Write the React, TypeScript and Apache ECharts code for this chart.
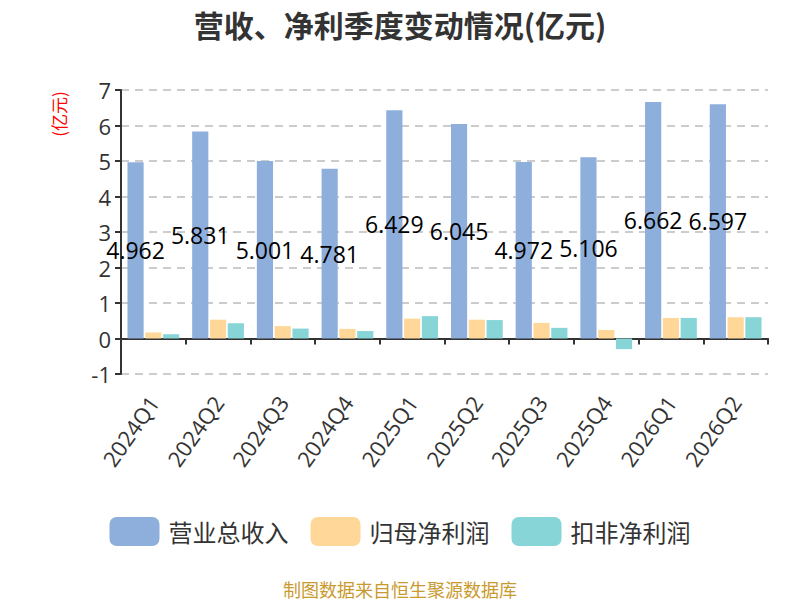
import React, { useEffect, useRef } from "react";
import * as echarts from "echarts";

const categories = ["2024Q1", "2024Q2", "2024Q3", "2024Q4", "2025Q1", "2025Q2", "2025Q3", "2025Q4", "2026Q1", "2026Q2"];
const revenue = [4.962, 5.831, 5.001, 4.781, 6.429, 6.045, 4.972, 5.106, 6.662, 6.597];
const netProfit = [0.17, 0.53, 0.35, 0.27, 0.56, 0.53, 0.44, 0.24, 0.58, 0.6];
const deductedProfit = [0.12, 0.43, 0.28, 0.21, 0.63, 0.52, 0.3, -0.3, 0.58, 0.6];
const seriesNames = ["营业总收入", "归母净利润", "扣非净利润"];
const colors = ["#8EAEDB", "#FFD899", "#88D5D8"];

export default function App() {
  const ref = useRef<HTMLDivElement>(null);
  useEffect(() => {
    document.body.style.margin = "0";
    if (!ref.current) return;
    const chart = echarts.init(ref.current, undefined, { renderer: "svg" });
    chart.setOption({
      animation: false,
      color: colors,
      title: {
        text: "营收、净利季度变动情况(亿元)",
        left: "center",
        top: 4,
        textStyle: { fontSize: 30, fontWeight: "bold", color: "#333", fontFamily: "Noto Sans CJK SC" },
      },
      graphic: [
        {
          type: "text",
          x: 58,
          y: 114,
          rotation: Math.PI / 2,
          style: {
            text: "(亿元)",
            fill: "#FF0000",
            fontSize: 17,
            fontFamily: "Noto Sans CJK SC",
            align: "center",
            verticalAlign: "middle",
          },
        },
        {
          type: "text",
          x: 400,
          y: 589,
          style: {
            text: "制图数据来自恒生聚源数据库",
            fill: "#C99A2E",
            fontSize: 18,
            fontFamily: "Noto Sans CJK SC",
            align: "center",
            verticalAlign: "middle",
          },
        },
      ],
      legend: {
        data: seriesNames,
        bottom: 49,
        left: "center",
        itemWidth: 50,
        itemHeight: 29,
        itemGap: 22,
        icon: "roundRect",
        textStyle: { fontSize: 24, color: "#333", fontFamily: "Noto Sans CJK SC", padding: [0, 0, 0, 4] },
      },
      grid: { left: 121, right: 32, top: 90, bottom: 226, containLabel: false },
      xAxis: {
        type: "category",
        data: categories,
        axisLine: { onZero: true, lineStyle: { color: "#333", width: 2 } },
        axisTick: { show: true, length: 6, lineStyle: { color: "#333", width: 2 } },
        axisLabel: { rotate: 55, fontSize: 22, color: "#333", margin: 24, fontFamily: "Open Sans" },
      },
      yAxis: {
        type: "value",
        min: -1,
        max: 7,
        interval: 1,
        axisLine: { show: true, lineStyle: { color: "#333", width: 2 } },
        axisTick: { show: true, length: 6, lineStyle: { color: "#333", width: 2 } },
        axisLabel: { fontSize: 22, color: "#333", margin: 10, fontFamily: "Open Sans" },
        splitLine: { lineStyle: { color: "#ccc", type: [8, 6], width: 2 } },
      },
      series: [
        {
          name: seriesNames[0],
          type: "bar",
          data: revenue,
          barGap: "10%",
          barCategoryGap: "20%",
          label: {
            show: true,
            position: "inside",
            color: "#000",
            fontSize: 23,
            fontFamily: "Open Sans",
          },
        },
        { name: seriesNames[1], type: "bar", data: netProfit, barGap: "10%", barCategoryGap: "20%" },
        { name: seriesNames[2], type: "bar", data: deductedProfit, barGap: "10%", barCategoryGap: "20%" },
      ],
    });
    return () => chart.dispose();
  }, []);
  return <div ref={ref} style={{ width: 800, height: 600 }} />;
}
